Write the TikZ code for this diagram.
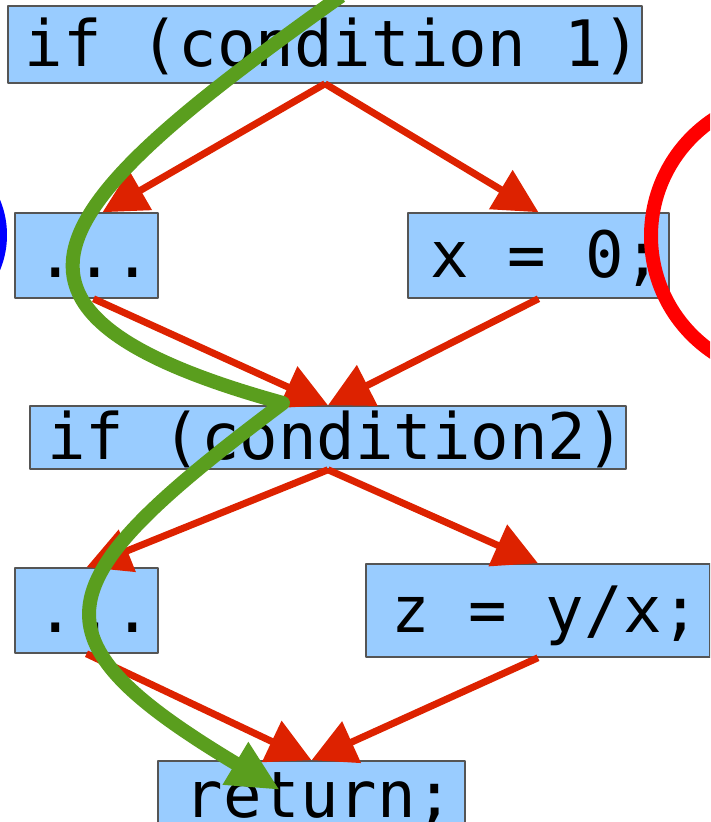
\documentclass[tikz,border=0pt]{standalone}
\usepackage{fontspec}
\newfontfamily\codefont{DejaVu Sans Mono}
\usetikzlibrary{arrows.meta}
\definecolor{boxblue}{HTML}{99CCFF}
\definecolor{flowred}{HTML}{DD2200}
\definecolor{tracegreen}{HTML}{5A9E1E}
\definecolor{edgegray}{HTML}{555555}

\begin{document}
\begin{tikzpicture}[line join=round,x=1pt,y=-1pt,
	codebox/.style={draw=edgegray,line width=1.5pt,fill=boxblue,inner sep=0pt,
		font=\codefont\fontsize{64}{70}\selectfont,text height=52pt,text depth=9pt,
		execute at begin node=\hspace*{16pt}},
	flow/.style={draw=flowred,line width=7pt,-{Triangle[length=44pt,width=44pt]}},
	trace/.style={draw=tracegreen,line width=14pt,-{Triangle[length=52pt,width=46pt]}}]
			\useasboundingbox (0,0) rectangle (710,822);
			\clip (0,0) rectangle (710,822);
			\node[codebox,minimum width=634pt,minimum height=77pt] (cond1) at (325,44.5) {if (condition 1)};
			\node[codebox,minimum width=143pt,minimum height=85pt] (skipa) at (86.5,255.5) {...};
			\node[codebox,minimum width=261pt,minimum height=85pt] (setx) at (538.5,255.5) {x = 0;};
			\node[codebox,minimum width=596pt,minimum height=63pt] (cond2) at (328,437.5) {if (condition2)};
			\node[codebox,minimum width=143pt,minimum height=85pt] (skipb) at (86.5,610.5) {...};
			\node[codebox,minimum width=344pt,minimum height=93pt] (divide) at (538,610.5) {z = y/x;};
			\node[codebox,minimum width=307pt,minimum height=69pt] (ret) at (311.5,795.5) {return;};
			\draw[flow] (cond1.south) -- ([xshift=16pt]skipa.north);
			\draw[flow] (cond1.south) -- (setx.north);
			\draw[flow] ([xshift=7pt]skipa.south) -- (cond2.north);
			\draw[flow] (setx.south) -- (cond2.north);
			\draw[flow] (cond2.south) -- (skipb.north);
			\draw[flow] (cond2.south) -- (divide.north);
			\draw[flow] (skipb.south) -- (ret.north);
			\draw[flow] (divide.south) -- (ret.north);
			%% path through the taken branches
			\draw[trace] (341,-4) .. controls (50,203) and (-54,310) .. (283,403)
				.. controls (43,583) and (23,636) .. (280,790);
			\draw[blue,line width=10pt] (-60,235) ellipse [x radius=62, y radius=74];
			\draw[red,line width=14pt] (791,236) circle (140);
		\end{tikzpicture}
\end{document}
